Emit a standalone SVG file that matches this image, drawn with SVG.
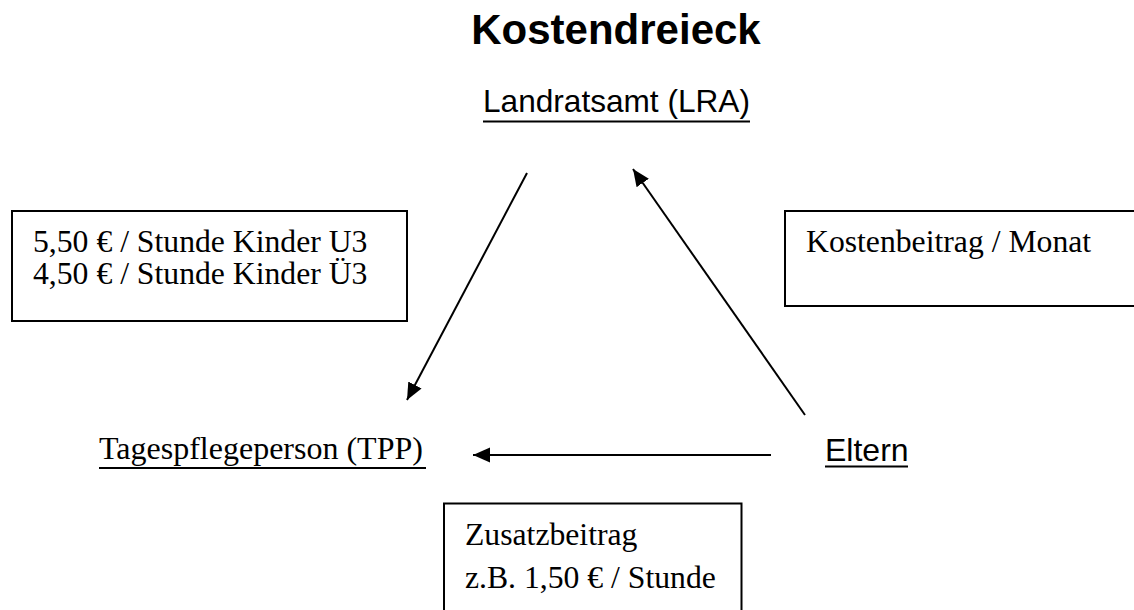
<svg xmlns="http://www.w3.org/2000/svg" width="1134" height="610" viewBox="0 0 1134 610">
<style>
.sans{font-family:"Liberation Sans",Arial,sans-serif;fill:#000}
.serif{font-family:"Liberation Serif","Times New Roman",serif;fill:#000}
.box{fill:#fff;stroke:#000;stroke-width:2}
.ul{stroke:#000;stroke-width:2}
.conn{stroke:#000;stroke-width:2;fill:none;marker-end:url(#ah)}
</style>
<defs>
<marker id="ah" markerUnits="userSpaceOnUse" markerWidth="18" markerHeight="16" refX="17" refY="7.5" orient="auto" viewBox="0 0 18 16">
<path d="M0,0 L17,7.5 L0,15 z" fill="#000"/>
</marker>
</defs>
<rect width="1134" height="610" fill="#fff"/>
<g id="title">
<text class="sans" x="616" y="44" font-size="42" font-weight="bold" text-anchor="middle">Kostendreieck</text>
</g>
<g id="connectors">
<line class="conn" x1="527" y1="173" x2="407" y2="400"/>
<line class="conn" x1="805" y1="415" x2="633" y2="169"/>
<line class="conn" x1="771" y1="455" x2="473" y2="455"/>
</g>
<g id="lra">
<text class="sans" x="483" y="112" font-size="31.6">Landratsamt (LRA)</text>
<line class="ul" x1="483" y1="121.5" x2="750" y2="121.5"/>
</g>
<g id="tpp">
<text class="serif" x="99" y="459" font-size="32">Tagespflegeperson (TPP)</text>
<line class="ul" x1="99" y1="468" x2="426" y2="468"/>
</g>
<g id="eltern">
<text class="sans" x="825" y="461" font-size="32">Eltern</text>
<line class="ul" x1="825" y1="466.5" x2="908" y2="466.5"/>
</g>
<g id="box-lra-tpp">
<rect class="box" x="12" y="211" width="395" height="110"/>
<text class="serif" x="33" y="252" font-size="31.7">5,50 € / Stunde Kinder U3</text>
<text class="serif" x="33" y="284" font-size="31.7">4,50 € / Stunde Kinder Ü3</text>
</g>
<g id="box-eltern-lra">
<rect class="box" x="785" y="211" width="360" height="95"/>
<text class="serif" x="806" y="252" font-size="31.7">Kostenbeitrag / Monat</text>
</g>
<g id="box-eltern-tpp">
<rect class="box" x="444" y="503.5" width="297.5" height="120"/>
<text class="serif" x="465" y="545" font-size="31.7">Zusatzbeitrag</text>
<text class="serif" x="465" y="588" font-size="31.7">z.B. 1,50 € / Stunde</text>
</g>
</svg>
